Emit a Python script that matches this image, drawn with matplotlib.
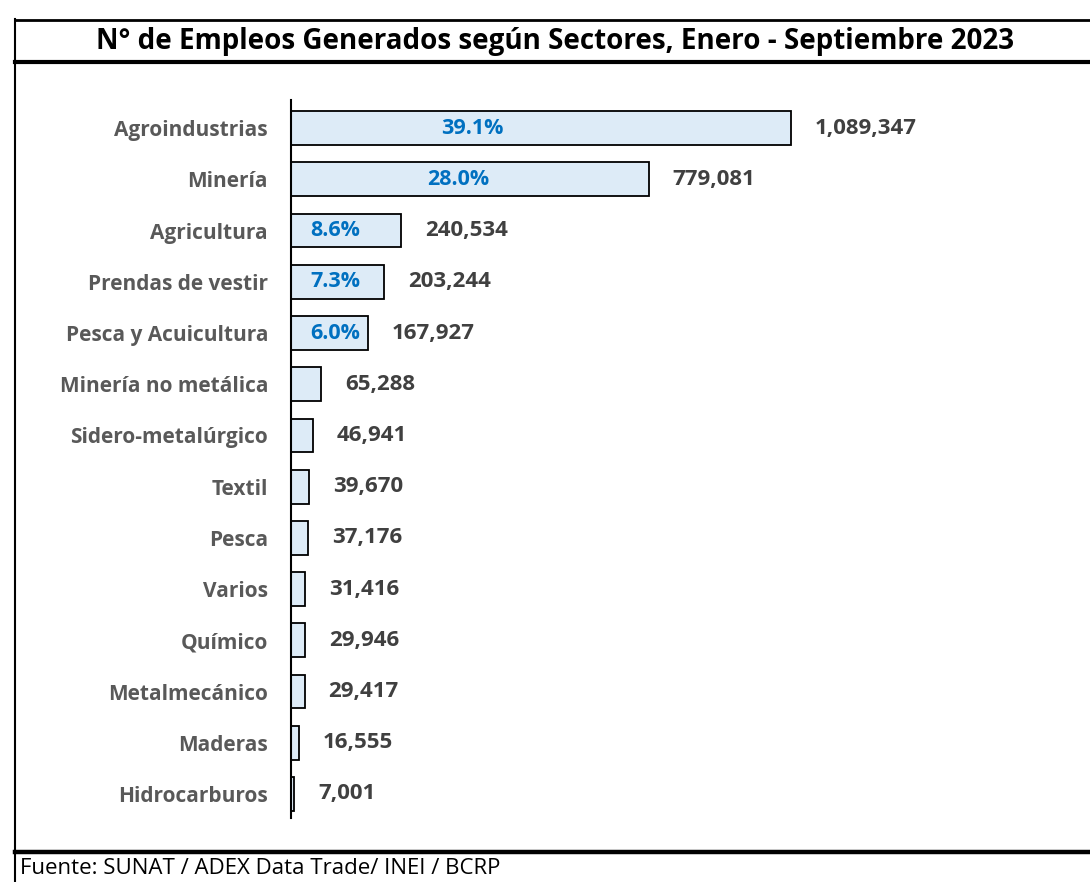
import matplotlib.pyplot as plt
from matplotlib.lines import Line2D

sectores = ["Agroindustrias", "Minería", "Agricultura", "Prendas de vestir",
            "Pesca y Acuicultura", "Minería no metálica", "Sidero-metalúrgico",
            "Textil", "Pesca", "Varios", "Químico", "Metalmecánico", "Maderas",
            "Hidrocarburos"]
empleos = [1089347, 779081, 240534, 203244, 167927, 65288, 46941, 39670,
           37176, 31416, 29946, 29417, 16555, 7001]
porcentajes = ["39.1%", "28.0%", "8.6%", "7.3%", "6.0%"]

W, H = 1090, 882
fig = plt.figure(figsize=(W / 100, H / 100), dpi=100)
plt.rcParams['font.family'] = ['Open Sans', 'DejaVu Sans']

# axes placed in pixel coords: axis line at x=291, rows from y=100 to 818
ax_left, ax_right = 291, 1000
ax_top, ax_bot = 100, 818
ax = fig.add_axes([ax_left / W, 1 - ax_bot / H, (ax_right - ax_left) / W, (ax_bot - ax_top) / H])

pos = list(range(len(sectores)))
ax.barh(pos, empleos, height=0.66, color="#DDEBF7", edgecolor="black", linewidth=1.3)
ax.set_ylim(len(sectores) - 0.53, -0.55)
px = max(empleos) / 500  # data units per pixel
ax.set_xlim(0, (ax_right - ax_left) * px)

for side in ["top", "right", "bottom"]:
    ax.spines[side].set_visible(False)
ax.spines["left"].set_linewidth(1.5)
ax.set_xticks([])
ax.set_yticks(pos)
ax.set_yticklabels(sectores, fontsize=15, fontweight="bold", color="#595959")
ax.tick_params(axis="y", length=0, pad=16.5)

for i, v in enumerate(empleos):
    ax.text(v + 24 * px, i, f"{v:,}", va="center", ha="left", fontsize=16,
            fontweight="bold", color="#404040")

for i, p in enumerate(porcentajes):
    v = empleos[i]
    if v > 500000:
        x, ha = 131 * px + 0.1 * v, "center"
    else:
        x, ha = 19 * px, "left"
    ax.text(x, i, p, va="center", ha=ha, fontsize=15.5, fontweight="bold", color="#0070C0")

# frame lines of the original sheet
def hline(y, lw, x0=15, x1=W):
    fig.add_artist(Line2D([x0 / W, x1 / W], [1 - y / H, 1 - y / H], color="black", lw=lw))

hline(19.5, 2.0)
hline(62, 3.0)
hline(852, 3.2)
fig.add_artist(Line2D([15 / W, 15 / W], [1 - 19 / H, 0], color="black", lw=1.5))

fig.text(555 / W, 1 - 42 / H, "N° de Empleos Generados según Sectores, Enero - Septiembre 2023",
         ha="center", va="center", fontsize=20, fontweight="bold", color="black")
fig.text(20 / W, 1 - 868 / H, "Fuente: SUNAT / ADEX Data Trade/ INEI / BCRP",
         ha="left", va="center", fontsize=16, color="black")

fig.savefig("out.png", dpi=100)
